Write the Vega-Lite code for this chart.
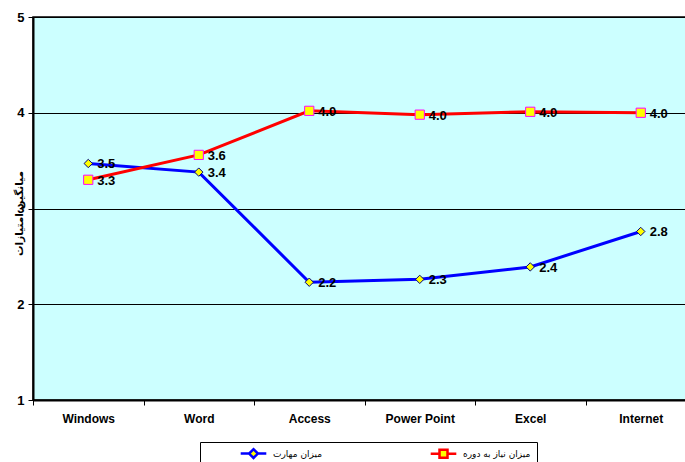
{
  "$schema": "https://vega.github.io/schema/vega-lite/v6.json",
  "autosize": {"type": "none"},
  "width": 663,
  "height": 383,
  "padding": {"left": 33, "top": 17, "right": 0, "bottom": 62},
  "background": "#FFFFFF",
  "config": {
    "view": {"fill": "#CCFFFF", "stroke": "#000000", "strokeWidth": 1.5},
    "axis": {"labelFont": "Liberation Sans", "labelColor": "#000000", "labelFontWeight": "bold", "tickColor": "#000000", "domainColor": "#000000"}
  },
  "data": {
    "values": [
      {"tool": "Windows", "series": "میزان مهارت", "value": 3.47},
      {"tool": "Word", "series": "میزان مهارت", "value": 3.38},
      {"tool": "Access", "series": "میزان مهارت", "value": 2.23},
      {"tool": "Power Point", "series": "میزان مهارت", "value": 2.26},
      {"tool": "Excel", "series": "میزان مهارت", "value": 2.39},
      {"tool": "Internet", "series": "میزان مهارت", "value": 2.76},
      {"tool": "Windows", "series": "میزان نیاز به دوره", "value": 3.3},
      {"tool": "Word", "series": "میزان نیاز به دوره", "value": 3.56},
      {"tool": "Access", "series": "میزان نیاز به دوره", "value": 4.02},
      {"tool": "Power Point", "series": "میزان نیاز به دوره", "value": 3.98},
      {"tool": "Excel", "series": "میزان نیاز به دوره", "value": 4.01},
      {"tool": "Internet", "series": "میزان نیاز به دوره", "value": 4.0}
    ]
  },
  "encoding": {
    "x": {
      "field": "tool", "type": "nominal",
      "sort": ["Windows", "Word", "Access", "Power Point", "Excel", "Internet"],
      "scale": {"type": "band", "paddingInner": 0, "paddingOuter": 0},
      "axis": {"title": null, "labelAngle": 0, "labelFontSize": 12, "labelPadding": 8, "tickBand": "extent", "tickSize": 5, "domainWidth": 2, "grid": false}
    },
    "y": {
      "field": "value", "type": "quantitative",
      "scale": {"domain": [1, 5], "nice": false, "zero": false},
      "axis": {
        "values": [1, 2, 3, 4, 5], "format": "d", "labelFontSize": 13, "labelPadding": 4, "tickSize": 5, "domainWidth": 2,
        "grid": true, "gridColor": "#000000", "gridWidth": 1, "gridOpacity": 1,
        "title": "میانگین امتیازات", "titleFont": "DejaVu Sans", "titleFontSize": 10.5, "titleFontWeight": "bold", "titleColor": "#000000",
        "titleX": -11, "titleY": 196, "titleAngle": -90, "titleAlign": "center", "titleBaseline": "alphabetic"
      }
    }
  },
  "layer": [
    {
      "mark": {"type": "line", "strokeWidth": 3},
      "encoding": {
        "stroke": {
          "field": "series", "type": "nominal",
          "scale": {"domain": ["میزان مهارت", "میزان نیاز به دوره"], "range": ["#0000FF", "#FF0000"]},
          "legend": {
            "orient": "none", "legendX": 167, "legendY": 425, "direction": "horizontal", "columns": 2,
            "title": null, "strokeColor": "#000000", "fillColor": "#FFFFFF", "padding": 6,
            "symbolSize": 64, "symbolOffset": 42, "labelOffset": 14, "columnPadding": 73,
            "labelFont": "DejaVu Sans", "labelFontSize": 9, "labelColor": "#000000", "symbolStrokeWidth": 2.5,
            "encode": {"symbols": {"update": {
              "shape": {"signal": "datum.value === 'میزان مهارت' ? 'M-3.2,0H-1.1M1.1,0H3.2M0,-1.1L1.1,0L0,1.1L-1.1,0Z' : 'M-3.2,0H-1M1,0H3.2M-1,-1H1V1H-1Z'"},
              "fill": {"value": "#FFFF00"}
            }}}
          }
        }
      }
    },
    {
      "transform": [{"filter": "datum.series === 'میزان مهارت'"}],
      "mark": {"type": "point", "shape": "diamond", "filled": true, "fill": "#FFFF00", "stroke": "#000080", "strokeWidth": 1, "size": 70, "opacity": 1}
    },
    {
      "transform": [{"filter": "datum.series === 'میزان نیاز به دوره'"}],
      "mark": {"type": "point", "shape": "square", "filled": true, "fill": "#FFFF00", "stroke": "#FF00FF", "strokeWidth": 1, "size": 85, "opacity": 1}
    },
    {
      "mark": {"type": "text", "align": "left", "baseline": "middle", "dx": 9, "dy": 1, "font": "Liberation Sans", "fontSize": 13, "fontWeight": "bold", "color": "#000000"},
      "encoding": {"text": {"field": "value", "type": "quantitative", "format": ".1f"}}
    }
  ]
}
